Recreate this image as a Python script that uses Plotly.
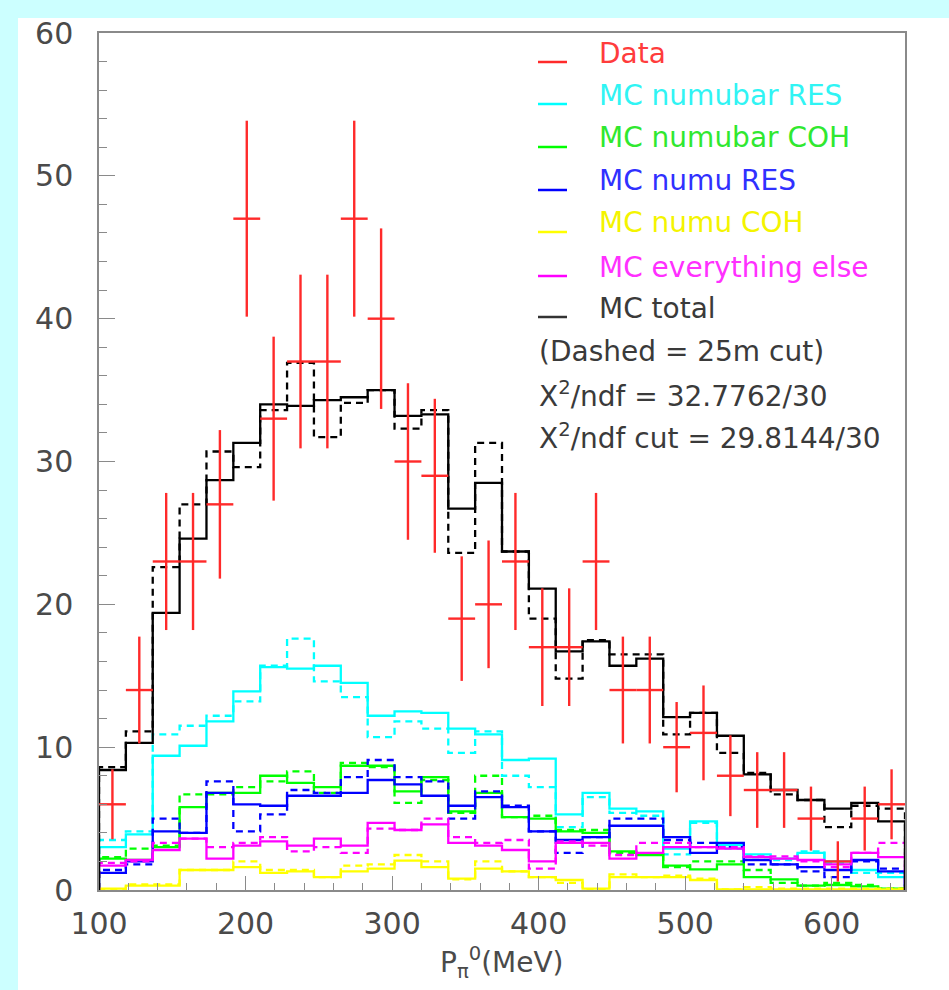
import numpy as np
import plotly.graph_objects as go

# ---------------- data ----------------
X_MIN, X_MAX, N_BINS = 100, 650, 30

data_counts = [6, 14, 23, 23, 27, 47, 33, 37, 37, 47, 40, 30, 29, 19, 20,
               23, 17, 17, 23, 14, 14, 10, 11, 8, 7, 7, 5, 2, 5, 6]
data_errors = [2.45, 3.74, 4.80, 4.80, 5.20, 6.86, 5.74, 6.08, 6.08, 6.86,
               6.32, 5.48, 5.39, 4.36, 4.47, 4.80, 4.12, 4.12, 4.80, 3.74,
               3.74, 3.16, 3.32, 2.83, 2.65, 2.65, 2.24, 1.41, 2.24, 2.45]

numubar_res = [3.0, 3.9, 9.4, 10.1, 11.8, 13.9, 15.6, 15.5, 15.7, 14.5, 12.2, 12.5, 12.4, 11.3, 10.9,
               9.1, 9.2, 5.3, 6.8, 5.7, 5.5, 2.9, 4.8, 3.15, 2.5, 2.2, 2.6, 2.0, 1.4, 0.9]
numubar_res_cut = [3.5, 4.1, 10.9, 11.5, 12.2, 13.2, 15.7, 17.6, 14.6, 13.5, 10.7, 11.8, 11.3, 9.6, 11.1,
                   8.0, 7.2, 4.4, 6.5, 5.4, 5.2, 2.5, 4.7, 2.9, 2.3, 2.1, 2.7, 1.9, 1.2, 1.2]

numubar_coh = [2.2, 2.1, 3.0, 5.8, 6.8, 6.8, 8.0, 7.5, 7.2, 8.7, 8.7, 6.9, 7.9, 5.5, 6.8,
               5.1, 5.0, 4.1, 4.0, 2.7, 2.45, 1.7, 1.45, 1.8, 0.9, 0.75, 0.3, 0.35, 0.25, 0.1]
numubar_coh_cut = [2.3, 2.9, 3.1, 6.7, 6.7, 7.2, 7.6, 8.3, 6.8, 8.9, 8.6, 6.1, 7.7, 5.4, 8.0,
                   5.1, 5.2, 4.2, 4.2, 2.6, 2.5, 1.6, 2.0, 2.0, 1.4, 0.5, 0.3, 0.5, 0.35, 0.1]

numu_res = [1.2, 2.0, 4.1, 4.0, 6.8, 6.0, 5.9, 6.6, 6.6, 6.8, 7.7, 7.4, 6.6, 5.9, 6.5,
            5.8, 4.1, 3.5, 3.7, 4.5, 4.5, 3.7, 2.6, 3.3, 2.1, 1.8, 1.6, 1.4, 2.1, 1.3]
numu_res_cut = [1.4, 1.8, 5.0, 4.0, 7.6, 4.1, 5.3, 7.0, 6.8, 7.9, 9.1, 7.9, 7.6, 5.0, 6.9,
                5.9, 4.1, 2.6, 3.7, 5.0, 5.0, 3.5, 3.3, 3.0, 1.8, 1.8, 1.3, 0.9, 2.0, 1.5]

numu_coh = [0.1, 0.3, 0.3, 1.4, 1.4, 1.6, 1.2, 1.3, 0.9, 1.3, 1.5, 2.05, 1.6, 0.8, 1.5,
            1.3, 0.9, 0.7, 0.1, 0.9, 0.9, 0.9, 0.7, 0.05, 0.05, 0.05, 0.05, 0.05, 0.05, 0.05]
numu_coh_cut = [0.05, 0.4, 0.4, 1.4, 1.4, 2.0, 1.4, 1.4, 0.9, 1.7, 1.8, 2.45, 2.0, 0.75, 2.0,
                1.3, 0.9, 0.5, 0.05, 1.1, 0.9, 1.0, 0.8, 0.05, 0.2, 0.1, 0.1, 0.1, 0.1, 0.1]

everything_else = [1.7, 2.1, 2.8, 3.6, 2.2, 3.1, 3.4, 3.1, 3.6, 3.1, 4.7, 4.2, 4.6, 3.3, 3.1,
                   2.8, 2.0, 3.3, 3.3, 2.2, 2.6, 3.0, 3.0, 2.9, 2.3, 2.2, 2.1, 1.8, 2.6, 2.3]
everything_else_cut = [1.9, 2.0, 3.3, 3.6, 3.0, 3.3, 3.7, 2.7, 3.0, 2.6, 4.3, 4.2, 5.0, 3.7, 3.3,
                       3.5, 1.5, 3.4, 3.1, 2.45, 3.3, 3.3, 3.0, 3.0, 2.35, 2.35, 2.0, 1.6, 2.6, 3.3]

mc_total = [8.4, 10.3, 19.4, 24.6, 28.7, 31.3, 34.0, 33.9, 34.3, 34.5, 35.0, 33.2, 33.3, 26.7, 28.5,
            23.7, 21.1, 16.7, 17.4, 15.7, 16.2, 12.1, 12.4, 10.8, 8.1, 7.0, 6.3, 5.7, 6.1, 4.8]
mc_total_cut = [8.6, 11.1, 22.6, 27.0, 30.7, 29.6, 33.6, 36.9, 31.7, 34.1, 35.0, 32.3, 33.6, 23.6, 31.3,
                23.7, 19.0, 14.8, 17.5, 16.5, 16.5, 10.9, 12.4, 9.6, 8.2, 6.7, 6.3, 4.4, 5.9, 5.7]

legend_labels = ["Data", "MC numubar RES", "MC numubar COH", "MC numu RES",
                 "MC numu COH", "MC everything else", "MC total"]
extra_texts = ["(Dashed = 25m cut)", "X<sup>2</sup>/ndf = 32.7762/30",
               "X<sup>2</sup>/ndf cut = 29.8144/30"]
x_title = "P<sub>π</sub><sup>0</sup>(MeV)"

# ---------------- styling ----------------
COLORS = {"data": "#ff2a2a", "res_bar": "#00ffff", "coh_bar": "#00ff00",
          "res": "#0000ff", "coh": "#ffff00", "else": "#ff00ff", "total": "#000000"}
TEXT_COLORS = ["#ff3c3c", "#30f4f4", "#30e830", "#3030ff", "#f4f400", "#ff30ff", "#3a3a3a"]
DASH = "7px,5px"
FONT = "DejaVu Sans"

W, H = 949, 990
L, R, T, B = 99, 905, 33, 890   # plot area in pixels

edges = np.linspace(X_MIN, X_MAX, N_BINS + 1)
centers = 0.5 * (edges[:-1] + edges[1:])
half_w = 0.5 * (edges[1] - edges[0])


def step_xy(vals):
    xs = [edges[0]] + list(edges[:-1]) + [edges[-1], edges[-1]]
    ys = [0] + list(vals) + [vals[-1], 0]
    return xs, ys


fig = go.Figure()

series = [
    (numubar_res, numubar_res_cut, COLORS["res_bar"]),
    (numubar_coh, numubar_coh_cut, COLORS["coh_bar"]),
    (numu_res, numu_res_cut, COLORS["res"]),
    (numu_coh, numu_coh_cut, COLORS["coh"]),
    (everything_else, everything_else_cut, COLORS["else"]),
    (mc_total, mc_total_cut, COLORS["total"]),
]
for solid, dashed, col in series:
    xs, ys = step_xy(solid)
    fig.add_trace(go.Scatter(x=xs, y=ys, mode="lines", line_shape="hv",
                             line=dict(color=col, width=2.3), showlegend=False,
                             hoverinfo="skip"))
    xs, ys = step_xy(dashed)
    fig.add_trace(go.Scatter(x=xs, y=ys, mode="lines", line_shape="hv",
                             line=dict(color=col, width=2.3, dash=DASH), showlegend=False,
                             hoverinfo="skip"))

fig.add_trace(go.Scatter(
    x=centers, y=data_counts, mode="markers",
    marker=dict(color=COLORS["data"], size=1),
    error_x=dict(type="constant", value=half_w, color=COLORS["data"], thickness=2.4, width=0),
    error_y=dict(type="data", array=data_errors, color=COLORS["data"], thickness=2.4, width=0),
    showlegend=False))


def px_to_paper_x(px):
    return (px - L) / (R - L)


def px_to_paper_y(py):
    return (B - py) / (B - T)


# canvas: cyan border with white pad
shapes = [dict(type="rect", xref="paper", yref="paper", layer="below",
               x0=px_to_paper_x(18), x1=px_to_paper_x(W + 5),
               y0=px_to_paper_y(H + 5), y1=px_to_paper_y(18),
               fillcolor="white", line=dict(width=0))]

annotations = []
legend_y = [53, 95, 138, 181, 223, 267, 308]
legend_cols = [COLORS["data"], COLORS["res_bar"], COLORS["coh_bar"], COLORS["res"],
               COLORS["coh"], COLORS["else"], "#333333"]
for lbl, yy, lc, tc in zip(legend_labels, legend_y, legend_cols, TEXT_COLORS):
    shapes.append(dict(type="line", xref="paper", yref="paper",
                       x0=px_to_paper_x(538), x1=px_to_paper_x(567),
                       y0=px_to_paper_y(yy + 9), y1=px_to_paper_y(yy + 9),
                       line=dict(color=lc, width=2.5)))
    annotations.append(dict(text=lbl, xref="paper", yref="paper",
                            x=px_to_paper_x(597), y=px_to_paper_y(yy),
                            xanchor="left", yanchor="middle", showarrow=False,
                            font=dict(family=FONT, size=28, color=tc)))
for txt, yy in zip(extra_texts, [351, 394, 437]):
    annotations.append(dict(text=txt, xref="paper", yref="paper",
                            x=px_to_paper_x(537), y=px_to_paper_y(yy),
                            xanchor="left", yanchor="middle", showarrow=False,
                            font=dict(family=FONT, size=28, color="#3a3a3a")))
annotations.append(dict(text=x_title, xref="paper", yref="paper",
                        x=0.5, y=px_to_paper_y(962), xanchor="center", yanchor="middle",
                        showarrow=False, font=dict(family=FONT, size=28, color="#4a4a4a")))

axis_common = dict(showgrid=False, zeroline=False, showline=True, linecolor="#8a8a8a",
                   linewidth=1.5, mirror=True, ticks="inside", tickcolor="#8a8a8a",
                   tickwidth=1.2, tickfont=dict(family=FONT, size=30, color="#4a4a4a"))

fig.update_layout(
    width=W, height=H,
    margin=dict(l=L, r=W - R, t=T, b=H - B, pad=0),
    paper_bgcolor="#ccffff", plot_bgcolor="white",
    shapes=shapes, annotations=annotations,
    xaxis=dict(range=[X_MIN, X_MAX], tick0=100, dtick=100, ticklen=14,
               ticklabelstandoff=6,
               minor=dict(dtick=20, ticks="inside", ticklen=7, tickcolor="#8a8a8a", tickwidth=1.2),
               **axis_common),
    yaxis=dict(range=[0, 60], tick0=0, dtick=10, ticklen=16,
               ticklabelstandoff=18,
               minor=dict(dtick=2, ticks="inside", ticklen=8, tickcolor="#8a8a8a", tickwidth=1.2),
               **axis_common),
)

fig.write_html("out.html",
               config={"displayModeBar": False},
               post_script="document.body.style.margin='0';document.body.style.padding='0';")
